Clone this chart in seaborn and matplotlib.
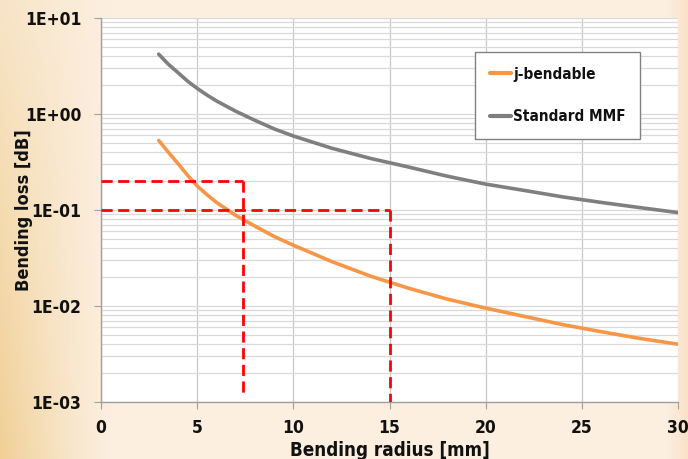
import numpy as np
import pandas as pd
import seaborn as sns
import matplotlib.pyplot as plt
from matplotlib import font_manager
from matplotlib.ticker import LogLocator, FuncFormatter, MultipleLocator

# Values
radius = [3, 3.5, 4, 4.5, 5, 5.5, 6, 7, 8, 9, 10, 12, 14, 16, 18, 20, 22, 24, 26, 28, 30]
loss_jbend = [0.53, 0.40, 0.305, 0.23, 0.178, 0.145, 0.12, 0.088, 0.068, 0.053, 0.043,
              0.029, 0.0205, 0.0153, 0.0118, 0.0095, 0.0078, 0.0064, 0.0054, 0.0046, 0.0040]
loss_mmf = [4.2, 3.3, 2.7, 2.2, 1.85, 1.58, 1.37, 1.07, 0.86, 0.70, 0.59,
            0.44, 0.345, 0.28, 0.225, 0.186, 0.16, 0.137, 0.12, 0.106, 0.094]
series_names = ["j-bendable", "Standard MMF"]
series_colors = ["#F79646", "#7F7F7F"]

# red guide lines: corner (radius, loss) and where the vertical part ends
guide_radius = [7.4, 15]
guide_loss = [0.2, 0.1]
guide_bottom = [1.25e-3, 1e-3]

ytick_vals = [1e-3, 1e-2, 1e-1, 1e0, 1e1]

df = pd.DataFrame({
    "radius": radius * 2,
    "loss": loss_jbend + loss_mmf,
    "fiber": [series_names[0]] * len(radius) + [series_names[1]] * len(radius),
})

sns.set_style("white")

# condensed bold font if one is available
fonts = font_manager.fontManager.ttflist
names = {f.name for f in fonts}
stretch = "normal"
if "Liberation Sans Narrow" in names:
    family = "Liberation Sans Narrow"
elif any(f.name == "DejaVu Sans" and f.stretch == "condensed" for f in fonts):
    family = "DejaVu Sans"
    stretch = "condensed"
else:
    family = "Roboto"
plt.rcParams['font.family'] = [family, 'DejaVu Sans']
plt.rcParams['font.stretch'] = stretch
plt.rcParams['font.weight'] = 'bold'
plt.rcParams['text.color'] = '#111111'
plt.rcParams['axes.labelcolor'] = '#111111'

fig = plt.figure(figsize=(6.88, 4.59), dpi=100)

# warm photographic-looking background
bg = fig.add_axes([0, 0, 1, 1], zorder=-10)
h, w = 200, 300
u = np.linspace(0, 1, w)[None, :]
v = np.linspace(0, 1, h)[:, None]
base = np.array([252, 239, 224]) / 255.0
tan = np.array([240, 208, 150]) / 255.0
peach = np.array([250, 222, 195]) / 255.0
wl = np.clip(1 - u / 0.16, 0, 1) ** 1.2 * (0.35 + 0.65 * v)
wr = np.clip((u - 0.97) / 0.03, 0, 1) * 0.8
img = base[None, None, :] * (1 - wl[..., None] - wr[..., None] * (1 - wl[..., None]))
img = img + tan[None, None, :] * wl[..., None] + peach[None, None, :] * (wr * (1 - wl))[..., None]
bg.imshow(np.clip(img, 0, 1), aspect="auto", extent=[0, 1, 0, 1])
bg.axis("off")

ax = fig.add_axes([101 / 688, 1 - 402 / 459, 577 / 688, 384 / 459])
ax.set_facecolor("white")

sns.lineplot(data=df, x="radius", y="loss", hue="fiber", palette=series_colors,
             linewidth=2.6, ax=ax, legend=True)

ax.set_yscale("log")
ax.set_xlim(0, 30)
ax.set_ylim(1e-3, 1e1)

# red dashed guides
for gx, gy, gb in zip(guide_radius, guide_loss, guide_bottom):
    ax.plot([0, gx], [gy, gy], color="red", linestyle=(0, (4, 2)), linewidth=2.0, zorder=5)
    ax.plot([gx, gx], [gy, gb], color="red", linestyle=(0, (4, 2)), linewidth=2.0, zorder=5)

ax.xaxis.set_major_locator(MultipleLocator(5))
ax.yaxis.set_minor_locator(LogLocator(base=10, subs=np.arange(2, 10)))
ax.set_yticks(ytick_vals)
ax.yaxis.set_major_formatter(FuncFormatter(lambda val, pos: f"{val:.0E}"))

ax.grid(True, which="major", axis="x", color="#C8C8C8", linewidth=0.9)
ax.grid(True, which="both", axis="y", color="#D9D9D9", linewidth=0.9)
ax.set_axisbelow(True)

for side in ["top", "right"]:
    ax.spines[side].set_visible(False)
for side in ["left", "bottom"]:
    ax.spines[side].set_color("#A0A0A0")
    ax.spines[side].set_linewidth(1.0)

ax.tick_params(axis="both", which="major", length=5, color="#A0A0A0",
               labelcolor="#111111", labelsize=12.5, direction="out",
               left=True, bottom=True)
ax.tick_params(axis="y", which="minor", length=0)
ax.tick_params(axis="y", pad=9)
ax.tick_params(axis="x", pad=7)

ax.set_xlabel("Bending radius [mm]", fontsize=13.5, fontweight="bold")
ax.set_ylabel("Bending loss [dB]", fontsize=13, fontweight="bold")
ax.xaxis.set_label_coords(389.5 / 688, 1 - 441 / 459, transform=fig.transFigure)
ax.yaxis.set_label_coords(33 / 688, 1 - 210 / 459, transform=fig.transFigure)

handles, labels = ax.get_legend_handles_labels()
leg = ax.legend(handles, labels, loc="upper left",
                bbox_to_anchor=(475 / 688, 1 - 52 / 459), bbox_transform=fig.transFigure,
                borderaxespad=0, frameon=True, fancybox=False, framealpha=1,
                edgecolor="#808080", fontsize=11, handlelength=1.4,
                handletextpad=0.15, labelspacing=1.8, borderpad=0.95)
leg.get_frame().set_linewidth(1.0)
for t in leg.get_texts():
    t.set_fontweight("bold")
for line in leg.get_lines():
    line.set_linewidth(3)

fig.savefig("out.png", dpi=100)
